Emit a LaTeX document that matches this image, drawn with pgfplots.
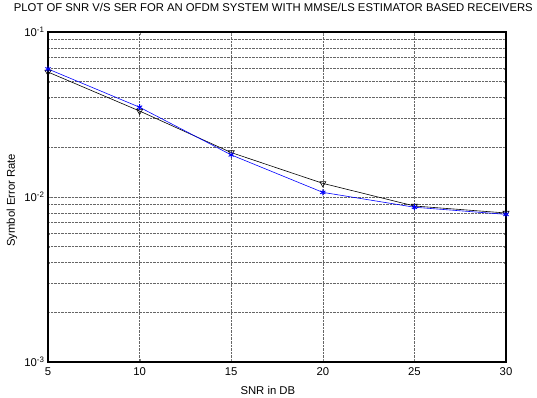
\documentclass[border=0pt]{standalone}
\usepackage{fontspec}
\setmainfont{Liberation Sans}
\usepackage{pgfplots}
\pgfplotsset{compat=1.18}
\begin{document}
\begin{tikzpicture}
\path[use as bounding box] (-48bp,-36bp) rectangle (489bp,362bp);
\begin{axis}[
  at={(0,0)}, anchor=south west,
  scale only axis,
  width=458bp, height=330bp,
  ymode=log,
  xmin=5, xmax=30, ymin=0.001, ymax=0.1,
  xtick={5,10,15,20,25,30},
  ytick={0.001,0.01,0.1},
  yticklabels={10\textsuperscript{-3},10\textsuperscript{-2},10\textsuperscript{-1}},
  /pgf/number format/assume math mode=true,
  font=\fontsize{11.3bp}{13bp}\selectfont,
  tick label style={font=\fontsize{11.3bp}{13bp}\selectfont},
  grid=both,
  major grid style={densely dotted, black!60, line width=0.5pt},
  minor grid style={densely dotted, black!60, line width=0.5pt},
  tick align=inside,
  tick pos=both,
  major tick length=3bp,
  minor tick length=2bp,
  axis line style={line width=1.1pt},
  title={PLOT OF SNR V/S SER FOR AN OFDM SYSTEM WITH MMSE/LS ESTIMATOR BASED RECEIVERS},
  title style={at={(axis description cs:0.492,1)}, anchor=center, yshift=19bp},
  xlabel={SNR in DB},
  xlabel style={at={(axis description cs:0.48,0)}, anchor=center, yshift=-28bp},
  ylabel={Symbol Error Rate},
  ylabel style={at={(axis description cs:-0.0786,0.49)}, anchor=center},
  xticklabel style={yshift=-2bp},
]
\addplot[black, line width=0.6pt, mark=triangle, mark size=3.5bp, mark options={rotate=180, fill=white, line width=0.6pt}]
  coordinates {(5,0.0572) (10,0.0332) (15,0.0186) (20,0.0121) (25,0.00882) (30,0.0080)};
\addplot[blue, line width=0.6pt, mark=asterisk, mark size=3bp, mark options={line width=0.9pt}]
  coordinates {(5,0.0597) (10,0.0350) (15,0.0180) (20,0.01067) (25,0.00867) (30,0.00785)};
\end{axis}
\end{tikzpicture}
\end{document}
